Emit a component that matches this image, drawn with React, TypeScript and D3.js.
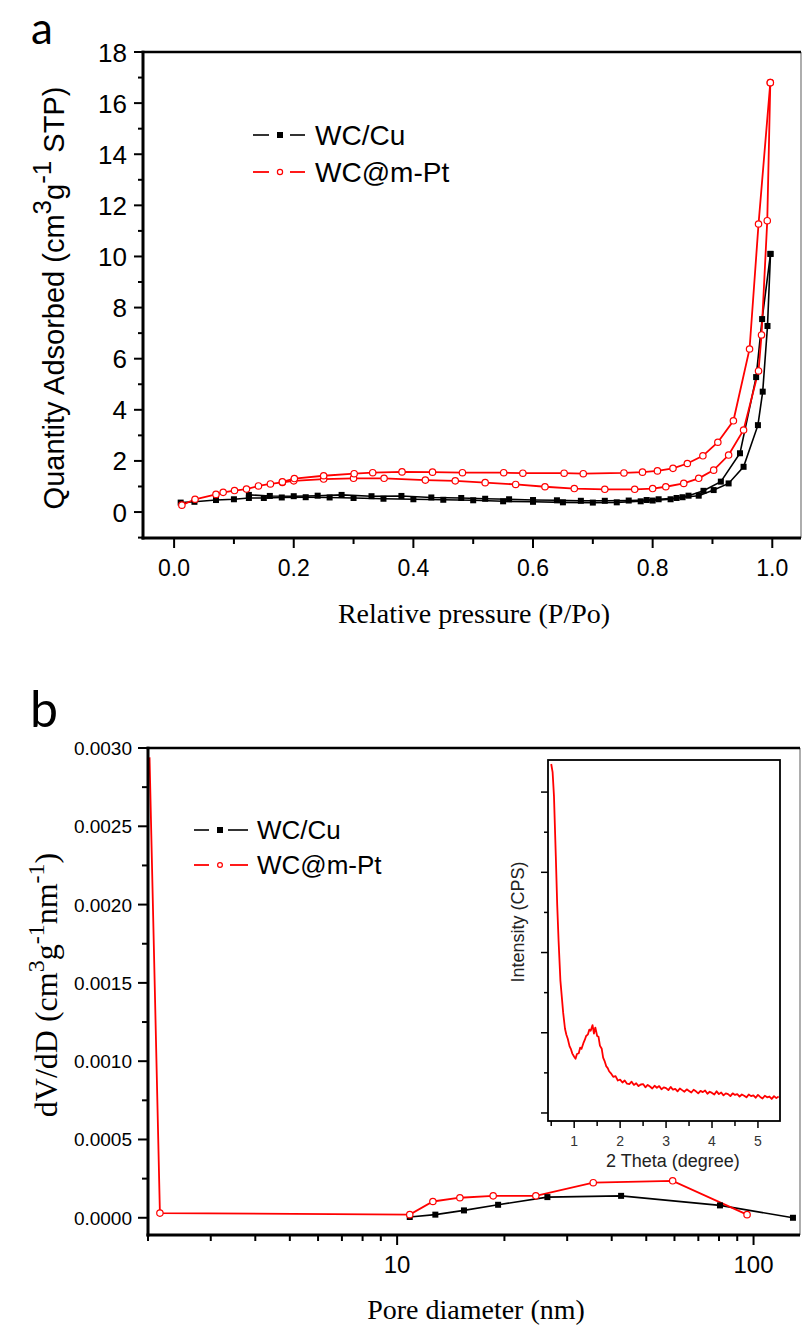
import React from "react";
import * as d3 from "d3";

const SANS = "'Liberation Sans', Arial, Helvetica, sans-serif";
const SERIF = "'Liberation Serif', 'Times New Roman', Times, serif";
const LETTER = "Lato, 'Open Sans', 'Noto Sans', sans-serif";

// ---------- Panel a : N2 isotherms (P/Po, quantity adsorbed) ----------
const wcCuAdsorption: [number, number][] = [
  [0.011, 0.37], [0.034, 0.4], [0.07, 0.47], [0.1, 0.5], [0.125, 0.55], [0.15, 0.55],
  [0.18, 0.57], [0.22, 0.58], [0.26, 0.57], [0.3, 0.55], [0.35, 0.52], [0.4, 0.5],
  [0.45, 0.48], [0.5, 0.46], [0.55, 0.42], [0.6, 0.4], [0.65, 0.38], [0.7, 0.37],
  [0.74, 0.38], [0.78, 0.42], [0.8, 0.45], [0.83, 0.5], [0.85, 0.58], [0.877, 0.64],
  [0.902, 0.86], [0.927, 1.12], [0.952, 1.77], [0.976, 3.4], [0.984, 4.71], [0.992, 7.28],
  [0.997, 10.1],
];
const wcCuDesorption: [number, number][] = [
  [0.997, 10.1], [0.983, 7.55], [0.973, 5.28], [0.946, 2.3], [0.914, 1.19], [0.885, 0.83],
  [0.86, 0.64], [0.84, 0.55], [0.81, 0.5], [0.79, 0.47], [0.76, 0.45], [0.72, 0.44],
  [0.68, 0.44], [0.64, 0.46], [0.6, 0.47], [0.56, 0.5], [0.52, 0.52], [0.48, 0.55],
  [0.43, 0.57], [0.38, 0.63], [0.33, 0.62], [0.28, 0.67], [0.24, 0.64], [0.2, 0.62],
  [0.16, 0.63], [0.125, 0.67],
];
const wcPtAdsorption: [number, number][] = [
  [0.013, 0.27], [0.035, 0.5], [0.07, 0.69], [0.082, 0.77], [0.101, 0.84], [0.121, 0.9],
  [0.141, 1.02], [0.161, 1.1], [0.181, 1.16], [0.2, 1.22], [0.25, 1.29], [0.3, 1.32],
  [0.351, 1.32], [0.42, 1.25], [0.47, 1.22], [0.52, 1.15], [0.571, 1.08], [0.62, 0.99],
  [0.669, 0.92], [0.72, 0.89], [0.77, 0.89], [0.8, 0.92], [0.822, 0.99], [0.852, 1.12],
  [0.877, 1.32], [0.902, 1.64], [0.927, 2.23], [0.952, 3.21], [0.977, 5.52], [0.982, 6.93],
  [0.9916, 11.4], [0.9967, 16.8],
];
const wcPtDesorption: [number, number][] = [
  [0.9967, 16.8], [0.977, 11.27], [0.962, 6.38], [0.935, 3.57], [0.909, 2.73], [0.884, 2.2],
  [0.858, 1.9], [0.834, 1.71], [0.808, 1.61], [0.783, 1.56], [0.752, 1.53], [0.684, 1.5],
  [0.652, 1.52], [0.583, 1.52], [0.551, 1.54], [0.482, 1.54], [0.432, 1.56], [0.381, 1.57],
  [0.332, 1.54], [0.301, 1.5], [0.25, 1.42], [0.201, 1.31], [0.181, 1.18],
];
const aXMajor = [0, 0.2, 0.4, 0.6, 0.8, 1.0];
const aXMinor = [0.1, 0.3, 0.5, 0.7, 0.9];
const aYMajor = [0, 2, 4, 6, 8, 10, 12, 14, 16, 18];
const aYMinor = [-1, 1, 3, 5, 7, 9, 11, 13, 15, 17];

// ---------- Panel b : pore size distribution ----------
const wcCuPores: [number, number][] = [
  [10.85, 0.000005], [12.8, 0.00002], [15.4, 0.000047], [19.2, 0.000083],
  [26.4, 0.000132], [42.5, 0.00014], [80.5, 0.000079], [129, 0.0],
];
const wcPtPores: [number, number][] = [
  [2.02, 0.00294], [2.16, 0.00003], [10.85, 0.00002], [12.6, 0.000104], [15.0, 0.000128],
  [18.6, 0.00014], [24.5, 0.00014], [35.5, 0.000224], [59.3, 0.000236], [95.9, 0.00002],
];
const bYMajor = [0, 0.0005, 0.001, 0.0015, 0.002, 0.0025, 0.003];
const bYMinor = [0.00025, 0.00075, 0.00125, 0.00175, 0.00225, 0.00275];
const bXMajor = [10, 100];
const bXMinor = [2, 3, 4, 5, 6, 7, 8, 9, 20, 30, 40, 50, 60, 70, 80, 90];

// ---------- Inset : low-angle XRD ----------
const insetTheta = [
  0.5, 0.53, 0.56, 0.6, 0.63, 0.66, 0.7, 0.73, 0.76, 0.8, 0.83, 0.86, 0.9, 0.93, 0.96,
  1.0, 1.03, 1.06, 1.1, 1.13, 1.16, 1.2, 1.23, 1.26, 1.3, 1.33, 1.36, 1.4, 1.43, 1.46,
  1.5, 1.53, 1.56, 1.6, 1.63, 1.66, 1.7, 1.73, 1.76, 1.8, 1.85, 1.9, 1.95, 2.0,
  2.05, 2.1, 2.15, 2.2, 2.25, 2.3, 2.35, 2.4, 2.45, 2.5, 2.55, 2.6, 2.65, 2.7, 2.75,
  2.8, 2.85, 2.9, 2.95, 3.0, 3.05, 3.1, 3.15, 3.2, 3.25, 3.3, 3.35, 3.4, 3.45, 3.5,
  3.55, 3.6, 3.65, 3.7, 3.75, 3.8, 3.85, 3.9, 3.95, 4.0, 4.05, 4.1, 4.15, 4.2, 4.25,
  4.3, 4.35, 4.4, 4.45, 4.5, 4.55, 4.6, 4.65, 4.7, 4.75, 4.8, 4.85, 4.9, 4.95, 5.0,
  5.05, 5.1, 5.15, 5.2, 5.25, 5.3, 5.35, 5.4, 5.45,
];
const insetCps = [
  870, 850, 790, 640, 520, 430, 330, 290, 250, 210, 195, 185, 166, 159, 148,
  140, 135, 147, 149, 163, 160, 174, 182, 192, 196, 208, 205, 219, 198, 213,
  192, 190, 168, 160, 138, 130, 116, 112, 104, 99, 90, 92, 81, 83,
  76, 81, 73, 72, 78, 70, 74, 67, 71, 72, 64, 70, 66, 61, 68,
  63, 67, 59, 64, 62, 57, 65, 58, 60, 54, 61, 57, 53, 59, 55,
  51, 58, 54, 49, 55, 52, 56, 48, 53, 50, 46, 54, 47, 51, 44,
  49, 47, 42, 49, 45, 47, 41, 46, 43, 39, 46, 42, 44, 38, 45,
  40, 36, 43, 39, 41, 35, 42, 37, 41,
];
const insetXMajor = [1, 2, 3, 4, 5];
const insetXMinor = [0.5, 1.5, 2.5, 3.5, 4.5];
const insetYMajor = [0, 200, 400, 600, 800];
const insetYMinor = [100, 300, 500, 700];

const RED = "#ff0000";

function Square({ x, y, s = 6 }: { x: number; y: number; s?: number }) {
  return <rect x={x - s / 2} y={y - s / 2} width={s} height={s} fill="#000" />;
}
function Circle({ x, y, r = 3.2 }: { x: number; y: number; r?: number }) {
  return <circle cx={x} cy={y} r={r} fill="#fff" stroke={RED} strokeWidth={1.2} />;
}

export default function App() {
  // scales panel a
  const xA = d3.scaleLinear().domain([-0.052, 1.048]).range([143, 801]);
  const yA = d3.scaleLinear().domain([-1, 18]).range([537.6, 52]);
  const lineA = d3.line<[number, number]>().x((d) => xA(d[0])).y((d) => yA(d[1]));

  // scales panel b
  const xB = d3.scaleLog().domain([2, 135]).range([148, 800]);
  const yB = d3.scaleLinear().domain([-0.00011, 0.003]).range([1235, 748]);
  const lineB = d3.line<[number, number]>().x((d) => xB(d[0])).y((d) => yB(d[1]));

  // inset scales
  const xI = d3.scaleLinear().domain([0.43, 5.48]).range([548, 780]);
  const yI = d3.scaleLinear().domain([-20, 880]).range([1121, 760]);
  const insetPts: [number, number][] = insetTheta.map((t, i) => [t, insetCps[i]]);
  const lineI = d3.line<[number, number]>().x((d) => xI(d[0])).y((d) => yI(d[1]));

  const aL = 143, aR = 801, aT = 52, aB = 538;
  const bL = 148, bR = 800, bT = 748, bB = 1235;
  const iL = 548, iR = 780, iT = 760, iB = 1121;

  return (
    <svg
      width={803}
      height={1328}
      viewBox="0 0 803 1328"
      style={{ position: "absolute", left: 0, top: 0, background: "#fff" }}
    >
      <defs>
        <clipPath id="clipA">
          <rect x={aL} y={aT} width={aR - aL} height={aB - aT} />
        </clipPath>
        <clipPath id="clipB">
          <rect x={bL} y={bT} width={bR - bL} height={bB - bT} />
        </clipPath>
        <clipPath id="clipI">
          <rect x={iL} y={iT} width={iR - iL} height={iB - iT} />
        </clipPath>
      </defs>
      <rect x={0} y={0} width={803} height={1328} fill="#fff" />

      {/* ================= Panel a ================= */}
      <text x={31} y={44} fontFamily={LETTER} fontSize={44} fill="#000">a</text>

      <g clipPath="url(#clipA)">
        <path d={lineA(wcCuAdsorption) || ""} fill="none" stroke="#000" strokeWidth={1.6} />
        <path d={lineA(wcCuDesorption) || ""} fill="none" stroke="#000" strokeWidth={1.6} />
        <path d={lineA(wcPtAdsorption) || ""} fill="none" stroke={RED} strokeWidth={1.8} />
        <path d={lineA(wcPtDesorption) || ""} fill="none" stroke={RED} strokeWidth={1.8} />
        {wcCuAdsorption.map((d, i) => <Square key={"ca" + i} x={xA(d[0])} y={yA(d[1])} />)}
        {wcCuDesorption.map((d, i) => <Square key={"cd" + i} x={xA(d[0])} y={yA(d[1])} />)}
        {wcPtAdsorption.map((d, i) => <Circle key={"pa" + i} x={xA(d[0])} y={yA(d[1])} />)}
        {wcPtDesorption.map((d, i) => <Circle key={"pd" + i} x={xA(d[0])} y={yA(d[1])} />)}
      </g>

      {/* frame a */}
      <line x1={aR} y1={aT} x2={aR} y2={aB} stroke="#777" strokeWidth={1.2} />
      <line x1={aL - 1.5} y1={aT} x2={aR} y2={aT} stroke="#000" strokeWidth={2.6} />
      <line x1={aL} y1={aT - 1.3} x2={aL} y2={aB + 1.5} stroke="#000" strokeWidth={3} />
      <line x1={aL - 1.5} y1={aB} x2={aR} y2={aB} stroke="#000" strokeWidth={3} />

      {aYMajor.map((v) => (
        <g key={"aym" + v}>
          <line x1={aL - 9} x2={aL} y1={yA(v)} y2={yA(v)} stroke="#000" strokeWidth={2} />
          <text x={aL - 16} y={yA(v) + 9.5} textAnchor="end" fontFamily={SANS} fontSize={26}>{v}</text>
        </g>
      ))}
      {aYMinor.map((v) => (
        <line key={"ayn" + v} x1={aL - 5} x2={aL} y1={yA(v)} y2={yA(v)} stroke="#000" strokeWidth={2} />
      ))}
      {aXMajor.map((v) => (
        <g key={"axm" + v}>
          <line x1={xA(v)} x2={xA(v)} y1={aB} y2={aB + 10} stroke="#000" strokeWidth={2} />
          <text x={xA(v)} y={576} textAnchor="middle" fontFamily={SANS} fontSize={23}>{v.toFixed(1)}</text>
        </g>
      ))}
      {aXMinor.map((v) => (
        <line key={"axn" + v} x1={xA(v)} x2={xA(v)} y1={aB} y2={aB + 6} stroke="#000" strokeWidth={2} />
      ))}

      <text x={474} y={623} textAnchor="middle" fontFamily={SERIF} fontSize={28}>Relative pressure (P/Po)</text>
      <text transform="translate(64,298) rotate(-90)" textAnchor="middle" fontFamily={SANS} fontSize={29}>
        Quantity Adsorbed (cm
        <tspan dy={-13} fontSize={26}>3</tspan>
        <tspan dy={13}>g</tspan>
        <tspan dy={-13} fontSize={26}>-1</tspan>
        <tspan dy={13}> STP)</tspan>
      </text>

      {/* legend a */}
      <g>
        <line x1={253} x2={269} y1={135} y2={135} stroke="#000" strokeWidth={1.6} />
        <line x1={290} x2={305} y1={135} y2={135} stroke="#000" strokeWidth={1.6} />
        <rect x={277} y={132} width={6} height={6} fill="#000" />
        <text x={315} y={145} fontFamily={SANS} fontSize={28}>WC/Cu</text>
        <line x1={253} x2={269} y1={172} y2={172} stroke={RED} strokeWidth={1.8} />
        <line x1={290} x2={305} y1={172} y2={172} stroke={RED} strokeWidth={1.8} />
        <circle cx={280} cy={172} r={2.6} fill="#fff" stroke={RED} strokeWidth={1.2} />
        <text x={315} y={182} fontFamily={SANS} fontSize={28}>WC@m-Pt</text>
      </g>

      {/* ================= Panel b ================= */}
      <text x={30} y={727} fontFamily={LETTER} fontSize={50} fill="#000">b</text>

      <g clipPath="url(#clipB)">
        <path d={lineB(wcCuPores) || ""} fill="none" stroke="#000" strokeWidth={1.6} />
        <path d={lineB(wcPtPores) || ""} fill="none" stroke={RED} strokeWidth={1.8} />
        {wcCuPores.map((d, i) => <Square key={"bc" + i} x={xB(d[0])} y={yB(d[1])} />)}
        {wcPtPores
          .filter((d) => d[1] < 0.0025)
          .map((d, i) => <Circle key={"bp" + i} x={xB(d[0])} y={yB(d[1])} />)}
      </g>

      <line x1={bR} y1={bT} x2={bR} y2={bB} stroke="#777" strokeWidth={1.2} />
      <line x1={bL - 1.5} y1={bT} x2={bR} y2={bT} stroke="#000" strokeWidth={2.6} />
      <line x1={bL} y1={bT - 1.3} x2={bL} y2={bB + 1.5} stroke="#000" strokeWidth={3} />
      <line x1={bL - 1.5} y1={bB} x2={bR} y2={bB} stroke="#000" strokeWidth={3} />

      {bYMajor.map((v) => (
        <g key={"bym" + v}>
          <line x1={bL - 10} x2={bL} y1={yB(v)} y2={yB(v)} stroke="#000" strokeWidth={2} />
          <text x={bL - 16} y={yB(v) + 7} textAnchor="end" fontFamily={SANS} fontSize={19}>{v.toFixed(4)}</text>
        </g>
      ))}
      {bYMinor.map((v) => (
        <line key={"byn" + v} x1={bL - 6} x2={bL} y1={yB(v)} y2={yB(v)} stroke="#000" strokeWidth={2} />
      ))}
      {bXMajor.map((v) => (
        <g key={"bxm" + v}>
          <line x1={xB(v)} x2={xB(v)} y1={bB} y2={bB + 10} stroke="#000" strokeWidth={2} />
          <text x={xB(v)} y={1273} textAnchor="middle" fontFamily={SANS} fontSize={24}>{v}</text>
        </g>
      ))}
      {bXMinor.map((v) => (
        <line key={"bxn" + v} x1={xB(v)} x2={xB(v)} y1={bB} y2={bB + 6} stroke="#000" strokeWidth={2} />
      ))}

      <text x={476} y={1319} textAnchor="middle" fontFamily={SERIF} fontSize={28}>Pore diameter (nm)</text>
      <text transform="translate(57,985) rotate(-90)" textAnchor="middle" fontFamily={SERIF} fontSize={32}>
        dV/dD (cm
        <tspan dy={-13} fontSize={24}>3</tspan>
        <tspan dy={13}>g</tspan>
        <tspan dy={-13} fontSize={24}>-1</tspan>
        <tspan dy={13}>nm</tspan>
        <tspan dy={-13} fontSize={24}>-1</tspan>
        <tspan dy={13}>)</tspan>
      </text>

      {/* legend b */}
      <g>
        <line x1={194} x2={209} y1={830} y2={830} stroke="#000" strokeWidth={1.6} />
        <line x1={228} x2={248} y1={830} y2={830} stroke="#000" strokeWidth={1.6} />
        <rect x={217} y={827} width={6} height={6} fill="#000" />
        <text x={257} y={839} fontFamily={SANS} fontSize={26}>WC/Cu</text>
        <line x1={194} x2={209} y1={865} y2={865} stroke={RED} strokeWidth={1.8} />
        <line x1={230} x2={248} y1={865} y2={865} stroke={RED} strokeWidth={1.8} />
        <circle cx={220} cy={865} r={2.4} fill="#fff" stroke={RED} strokeWidth={1.2} />
        <text x={257} y={874} fontFamily={SANS} fontSize={26}>WC@m-Pt</text>
      </g>

      {/* ================= Inset ================= */}
      <rect x={iL} y={iT} width={iR - iL} height={iB - iT} fill="#fff" />
      <g clipPath="url(#clipI)">
        <path d={lineI(insetPts) || ""} fill="none" stroke={RED} strokeWidth={1.8} strokeLinejoin="round" />
      </g>
      <rect x={iL} y={iT} width={iR - iL} height={iB - iT} fill="none" stroke="#000" strokeWidth={1.8} />
      {insetYMajor.map((v) => (
        <line key={"iym" + v} x1={iL - 7} x2={iL} y1={yI(v)} y2={yI(v)} stroke="#000" strokeWidth={1.5} />
      ))}
      {insetYMinor.map((v) => (
        <line key={"iyn" + v} x1={iL - 4} x2={iL} y1={yI(v)} y2={yI(v)} stroke="#000" strokeWidth={1.5} />
      ))}
      {insetXMajor.map((v) => (
        <g key={"ixm" + v}>
          <line x1={xI(v)} x2={xI(v)} y1={iB} y2={iB + 7} stroke="#000" strokeWidth={1.5} />
          <text x={xI(v)} y={1146} textAnchor="middle" fontFamily={SANS} fontSize={14} fill="#333">{v}</text>
        </g>
      ))}
      {insetXMinor.map((v) => (
        <line key={"ixn" + v} x1={xI(v)} x2={xI(v)} y1={iB} y2={iB + 5} stroke="#000" strokeWidth={1.5} />
      ))}
      <text x={673} y={1167} textAnchor="middle" fontFamily={SANS} fontSize={18} fill="#222">2 Theta (degree)</text>
      <text transform="translate(524,922) rotate(-90)" textAnchor="middle" fontFamily={SANS} fontSize={18} fill="#222">
        Intensity (CPS)
      </text>
    </svg>
  );
}
